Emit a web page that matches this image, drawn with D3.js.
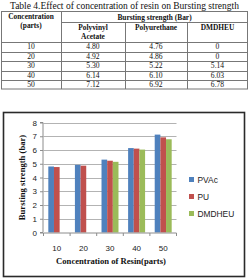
<!DOCTYPE html>
<html><head><meta charset="utf-8">
<script src="https://cdn.jsdelivr.net/npm/d3@7"></script>
<style>html,body{margin:0;padding:0;background:#fff;}svg{display:block;}</style>
</head><body>
<svg id="c" width="249" height="278"></svg>
<script>
const categories = [10, 20, 30, 40, 50];
const seriesNames = ["PVAc", "PU", "DMDHEU"];
const tableHeads = ["Polyvinyl Acetate", "Polyurethane", "DMDHEU"];
const pvac = [4.80, 4.92, 5.30, 6.14, 7.12];
const pu = [4.76, 4.86, 5.22, 6.10, 6.92];
const dmdheu = [0, 0, 5.14, 6.03, 6.78];
const yTicks = [0, 1, 2, 3, 4, 5, 6, 7, 8];
const colors = ["#4F81BD", "#C0504D", "#9BBB59"];

const series = [pvac, pu, dmdheu];
const svg = d3.select("#c");
const serif = "'Liberation Serif','Times New Roman',serif";
const sans = "'Liberation Sans',Arial,sans-serif";

// ---------- Table ----------
svg.append("text").attr("x", 124.5).attr("y", 9).attr("text-anchor", "middle")
  .attr("font-family", serif).attr("font-size", 9.5).attr("fill", "#111")
  .text("Table 4.Effect of concentration of resin on Bursting strength");

const tx0 = 1, tx1 = 248, colX = [1, 61, 125, 187, 248];
const rowLines = [11, 22, 42, 51.5, 61, 70.5, 80, 89];
const lineC = "#777";
const tg = svg.append("g");
tg.append("rect").attr("x", tx0 + 0.5).attr("y", 11.5).attr("width", tx1 - tx0 - 1).attr("height", 77.5)
  .attr("fill", "none").attr("stroke", lineC);
tg.append("line").attr("x1", colX[1] + 0.5).attr("x2", colX[1] + 0.5).attr("y1", 11).attr("y2", 89).attr("stroke", lineC);
[2, 3].forEach(i => tg.append("line").attr("x1", colX[i] + 0.5).attr("x2", colX[i] + 0.5).attr("y1", 22).attr("y2", 89).attr("stroke", lineC));
tg.append("line").attr("x1", colX[1]).attr("x2", tx1).attr("y1", 22.5).attr("y2", 22.5).attr("stroke", lineC);
rowLines.slice(2, 7).forEach(y => tg.append("line").attr("x1", tx0).attr("x2", tx1).attr("y1", Math.round(y) + 0.5).attr("y2", Math.round(y) + 0.5).attr("stroke", lineC));

function cellText(x, y, t, bold) {
  tg.append("text").attr("x", x).attr("y", y).attr("text-anchor", "middle")
    .attr("font-family", serif).attr("font-size", bold ? 7.4 : 7.6).attr("font-weight", bold ? "bold" : "normal")
    .attr("fill", "#111").text(t);
}
cellText(31, 19, "Concentration", true);
cellText(31, 28, "(parts)", true);
cellText(154.5, 19.5, "Bursting strength (Bar)", true);
cellText(93, 30, "Polyvinyl", true);
cellText(93, 39, "Acetate", true);
cellText(156, 30, tableHeads[1], true);
cellText(217.5, 30, tableHeads[2], true);
const fmt = v => v === 0 ? "0" : v.toFixed(2);
categories.forEach((c, r) => {
  const y = (rowLines[r + 2] + rowLines[r + 3]) / 2 + 2.6;
  cellText(31, y, String(c), false);
  series.forEach((s, i) => cellText((colX[i + 1] + colX[i + 2]) / 2, y, fmt(s[r]), false));
});

// ---------- Chart ----------
svg.append("rect").attr("x", 3.5).attr("y", 112.5).attr("width", 241).attr("height", 164)
  .attr("fill", "#fff").attr("stroke", "#2a2a2a").attr("stroke-width", 1.6);

const x = d3.scaleBand().domain(categories).range([43.5, 176.5]).paddingInner(0).paddingOuter(0);
const y = d3.scaleLinear().domain([0, 8]).range([232.5, 122.5]);
const barW = x.bandwidth() / 4.7;

const g = svg.append("g");
g.selectAll("line.grid").data(yTicks.filter(d => d > 0)).enter().append("line")
  .attr("x1", x.range()[0]).attr("x2", x.range()[1])
  .attr("y1", d => Math.round(y(d)) + 0.5).attr("y2", d => Math.round(y(d)) + 0.5)
  .attr("stroke", "#b3b3b3").attr("stroke-width", 1);

series.forEach((s, i) => {
  g.selectAll(null).data(categories).enter().append("rect")
    .attr("x", (d, j) => x(d) + x.bandwidth() / 2 - 1.5 * barW + i * barW)
    .attr("width", barW)
    .attr("y", (d, j) => y(s[j]))
    .attr("height", (d, j) => y(0) - y(s[j]))
    .attr("fill", colors[i]);
});

const yAxis = d3.axisLeft(y).tickValues(yTicks).tickSize(3).tickPadding(3).tickFormat(d3.format("d"));
const ya = svg.append("g").attr("transform", "translate(" + (x.range()[0] - 0.5) + ",0)").call(yAxis);
ya.select(".domain").attr("stroke", "#8c8c8c").attr("d", "M-3," + y(8) + "H0V" + y(0) + "H-3");
ya.selectAll(".tick line").attr("stroke", "#8c8c8c");
ya.selectAll("text").attr("font-family", sans).attr("font-size", 8).attr("fill", "#222");

const xa = svg.append("g").attr("transform", "translate(0," + (y(0) + 0.5) + ")");
xa.append("line").attr("x1", x.range()[0]).attr("x2", x.range()[1]).attr("y1", 0).attr("y2", 0).attr("stroke", "#8c8c8c");
xa.selectAll("line.t").data(categories.concat(["end"])).enter().append("line")
  .attr("x1", d => d === "end" ? x.range()[1] : x(d)).attr("x2", d => d === "end" ? x.range()[1] : x(d))
  .attr("y1", 0).attr("y2", 3).attr("stroke", "#8c8c8c");
xa.selectAll("text").data(categories).enter().append("text")
  .attr("x", d => x(d) + x.bandwidth() / 2).attr("y", 17.5).attr("text-anchor", "middle")
  .attr("font-family", sans).attr("font-size", 8).attr("fill", "#222").text(d => d);

svg.append("text").attr("x", 111).attr("y", 263.5).attr("text-anchor", "middle")
  .attr("font-family", serif).attr("font-weight", "bold").attr("font-size", 8.6).attr("fill", "#111")
  .text("Concentration of Resin(parts)");
svg.append("text").attr("transform", "translate(25," + ((y(0) + y(8)) / 2) + ") rotate(-90)")
  .attr("text-anchor", "middle").attr("font-family", serif).attr("font-weight", "bold").attr("font-size", 8.6).attr("fill", "#111")
  .text("Bursting strength (bar)");

const lg = svg.append("g");
seriesNames.forEach((n, i) => {
  const ly = 179.5 + i * 17;
  lg.append("rect").attr("x", 189).attr("y", ly - 2.5).attr("width", 5).attr("height", 5).attr("fill", colors[i]);
  lg.append("text").attr("x", 197.5).attr("y", ly + 3).attr("font-family", sans).attr("font-size", 8.4)
    .attr("fill", "#222").text(n);
});
</script>
</body></html>
